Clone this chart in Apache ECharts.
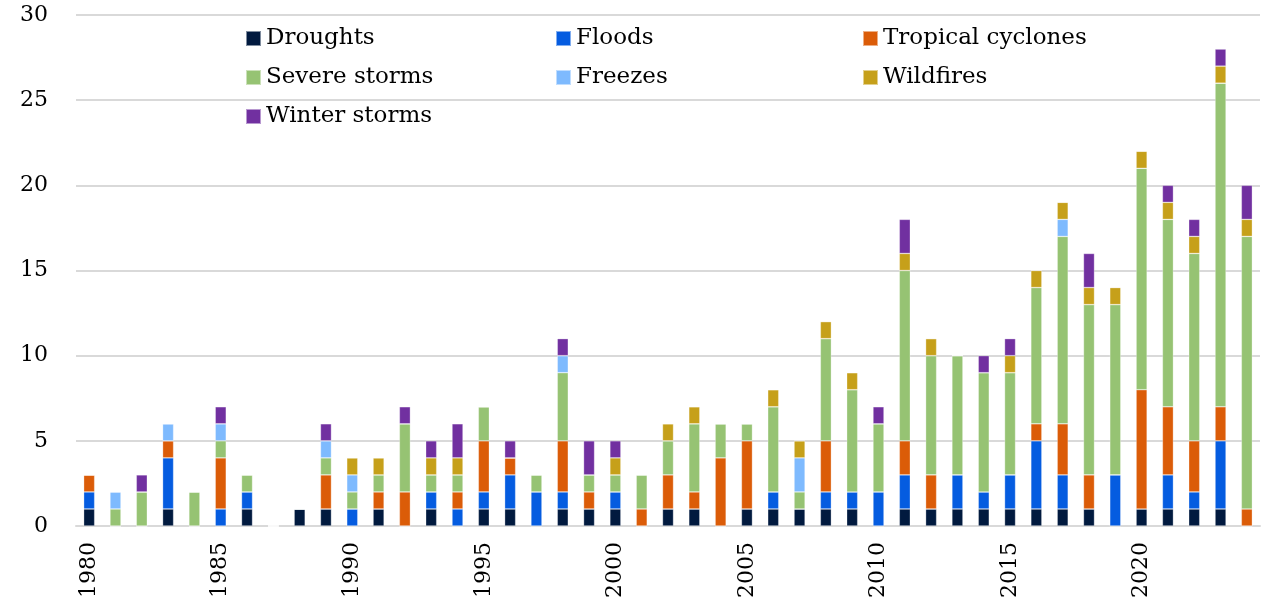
<!DOCTYPE html>
<html>
<head>
<meta charset="utf-8">
<script src="https://cdn.jsdelivr.net/npm/echarts@6/dist/echarts.min.js"></script>
<style>html,body{margin:0;padding:0;background:#fff}#c{width:1274px;height:606px}</style>
</head>
<body>
<div id="c"></div>
<script>
const years = [];
for (let y = 1980; y <= 2024; y++) years.push(String(y));

const seriesNames = ['Droughts','Floods','Tropical cyclones','Severe storms','Freezes','Wildfires','Winter storms'];
const colors = ['#011a3f','#055ce0','#db5c08','#96c373','#7ebafe','#c6a01a','#7130a0'];

const droughts = [1,0,0,1,0,0,1,0,1,1,0,1,0,1,0,1,1,0,1,1,1,0,1,1,0,1,1,1,1,1,0,1,1,1,1,1,1,1,1,0,1,1,1,1,0];
const floods   = [1,0,0,3,0,1,1,0,0,0,1,0,0,1,1,1,2,2,1,0,1,0,0,0,0,0,1,0,1,1,2,2,0,2,1,2,4,2,0,3,0,2,1,4,0];
const tropical = [1,0,0,1,0,3,0,0,0,2,0,1,2,0,1,3,1,0,3,1,0,1,2,1,4,4,0,0,3,0,0,2,2,0,0,0,1,3,2,0,7,4,3,2,1];
const severe   = [0,1,2,0,2,1,1,0,0,1,1,1,4,1,1,2,0,1,4,1,1,2,2,4,2,1,5,1,6,6,4,10,7,7,7,6,8,11,10,10,13,11,11,19,16];
const freezes  = [0,1,0,1,0,1,0,0,0,1,1,0,0,0,0,0,0,0,1,0,0,0,0,0,0,0,0,2,0,0,0,0,0,0,0,0,0,1,0,0,0,0,0,0,0];
const wildfires= [0,0,0,0,0,0,0,0,0,0,1,1,0,1,1,0,0,0,0,0,1,0,1,1,0,0,1,1,1,1,0,1,1,0,0,1,1,1,1,1,1,1,1,1,1];
const winter   = [0,0,1,0,0,1,0,0,0,1,0,0,1,1,2,0,1,0,1,2,1,0,0,0,0,0,0,0,0,0,1,2,0,0,1,1,0,0,2,0,0,1,1,1,2];

const yTicks = [0,5,10,15,20,25,30];
const allData = [droughts,floods,tropical,severe,freezes,wildfires,winter];

const FONT = '"DejaVu Serif", serif';
const chart = echarts.init(document.getElementById('c'));

const legendCommon = {
  orient: 'vertical', top: 22, itemWidth: 15, itemHeight: 15, itemGap: 16,
  icon: 'rect',
  textStyle: { fontFamily: FONT, fontSize: 23, color: '#000' }
};

chart.setOption({
  animation: false,
  color: colors,
  grid: { left: 76, right: 14, top: 15, bottom: 80 },
  legend: [
    Object.assign({}, legendCommon, { left: 240, data: ['Droughts','Severe storms','Winter storms'] }),
    Object.assign({}, legendCommon, { left: 550, data: ['Floods','Freezes'] }),
    Object.assign({}, legendCommon, { left: 857, data: ['Tropical cyclones','Wildfires'] })
  ],
  xAxis: {
    type: 'category', data: years,
    axisLine: { lineStyle: { color: '#d9d9d9', width: 2 } },
    axisTick: { show: false },
    axisLabel: { interval: 4, rotate: 90, fontFamily: FONT, fontSize: 22, color: '#000', margin: 16 }
  },
  yAxis: {
    type: 'value', min: yTicks[0], max: yTicks[yTicks.length-1], interval: 5,
    axisLine: { show: false }, axisTick: { show: false },
    splitLine: { lineStyle: { color: '#d9d9d9', width: 2 } },
    axisLabel: { fontFamily: FONT, fontSize: 22, color: '#000', margin: 28 }
  },
  series: seriesNames.map((n, i) => ({
    name: n, type: 'bar', stack: 'total', barWidth: 11,
    data: allData[i],
    itemStyle: { color: colors[i], borderColor: 'rgba(255,255,255,0.5)', borderWidth: 0.6 }
  }))
});
</script>
</body>
</html>
